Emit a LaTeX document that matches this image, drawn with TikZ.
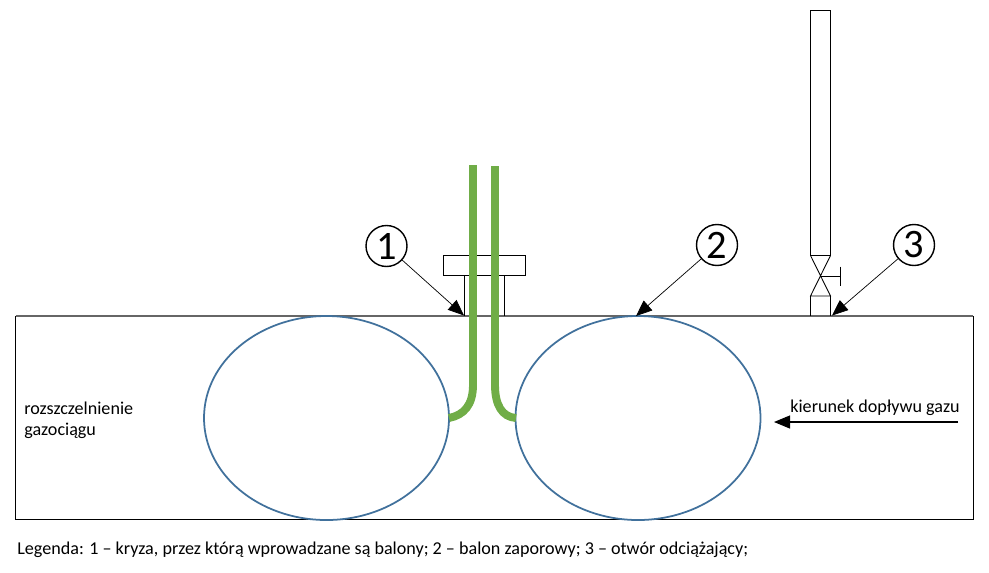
\documentclass[tikz,border=0pt]{standalone}
\usepackage{fontspec}
\setmainfont{Carlito}
\usetikzlibrary{arrows.meta}
\definecolor{balonblue}{RGB}{65,113,156}
\definecolor{rurkagreen}{RGB}{112,173,71}
\tikzset{
	kolko/.style={circle, draw, thick, minimum size=0.82cm, inner sep=0pt, font=\fontsize{23}{23}\selectfont},
	strzalka/.style={-{Triangle[length=3.2mm, width=2.6mm]}, line width=0.4pt},
	balon/.style={draw=balonblue, line width=1pt},
	rurka/.style={draw=rurkagreen, line width=4.5pt},
	opis/.style={inner sep=0pt, anchor=west, font=\fontsize{10.3}{11.9}\selectfont, align=left}
}
\begin{document}
\begin{tikzpicture}[x=0.02cm, y=-0.02cm]
	\useasboundingbox (0, 0) rectangle (989, 572);
	%%gazociag%
	\draw[line width=0.5pt](15.5, 316) rectangle (973, 519.5);
	\draw[line width=0.7pt, black!60](15.5, 316) to (973, 316);

	%balony%
	\draw[balon](326.5, 418) ellipse [x radius=122.5, y radius=102];
	\draw[balon](638, 418) ellipse [x radius=122.5, y radius=102];

	%kryza%
	\draw[line width=0.5pt](443.5, 255.5) rectangle (525.5, 275.5);
	\draw[line width=0.5pt](464.5, 275.5) to (464.5, 315.5);
	\draw[line width=0.5pt](504.5, 275.5) to (504.5, 315.5);

	%rurki%
	\draw[rurka](473, 165) to (473, 385) .. controls (473, 405) and (464, 415) .. (449, 418);
	\draw[rurka](495, 166) to (495, 385) .. controls (495, 405) and (502, 417) .. (516, 418);

	%odciazenie%
	\draw[line width=0.5pt](810.5, 10.5) rectangle (830.5, 255.5);
	\draw[line width=0.5pt](810.5, 255.5) to (830.5, 296) to (810.5, 296) to (830.5, 255.5);
	\draw[line width=0.5pt](810.5, 296) to (810.5, 315.5);
	\draw[line width=0.5pt](830.5, 296) to (830.5, 315.5);
	\draw[line width=0.5pt](820.5, 276) to (840.5, 276);
	\draw[line width=0.5pt](840.5, 266.5) to (840.5, 285.5);

	%numery%
	\node[kolko] (kryza) at (386.5, 246) {1};
	\node[kolko] (balonz) at (717, 245) {2};
	\node[kolko] (otwor) at (914, 245) {3};
	\coordinate (kryzakon) at (464, 315.5);
	\coordinate (balonkon) at (636, 316);
	\coordinate (otworkon) at (832, 315.5);
	\draw[strzalka](kryza) to (kryzakon);
	\draw[strzalka](balonz) to (balonkon);
	\draw[strzalka](otwor) to (otworkon);

	%doplyw%
	\coordinate (gazstart) at (958, 422);
	\coordinate (gazkon) at (774, 422);
	\draw[strzalka, line width=0.6pt](gazstart) to (gazkon);
	\node[opis] (kierunek) at (790, 408) {kierunek dopływu gazu};
	\node[opis] (rozszczelnienie) at (24, 420) {rozszczelnienie\\gazociągu};
	\node[opis] (legenda) at (17, 550) {Legenda: 1 – kryza, przez którą wprowadzane są balony; 2 – balon zaporowy; 3 – otwór odciążający;};
\end{tikzpicture}
\end{document}
